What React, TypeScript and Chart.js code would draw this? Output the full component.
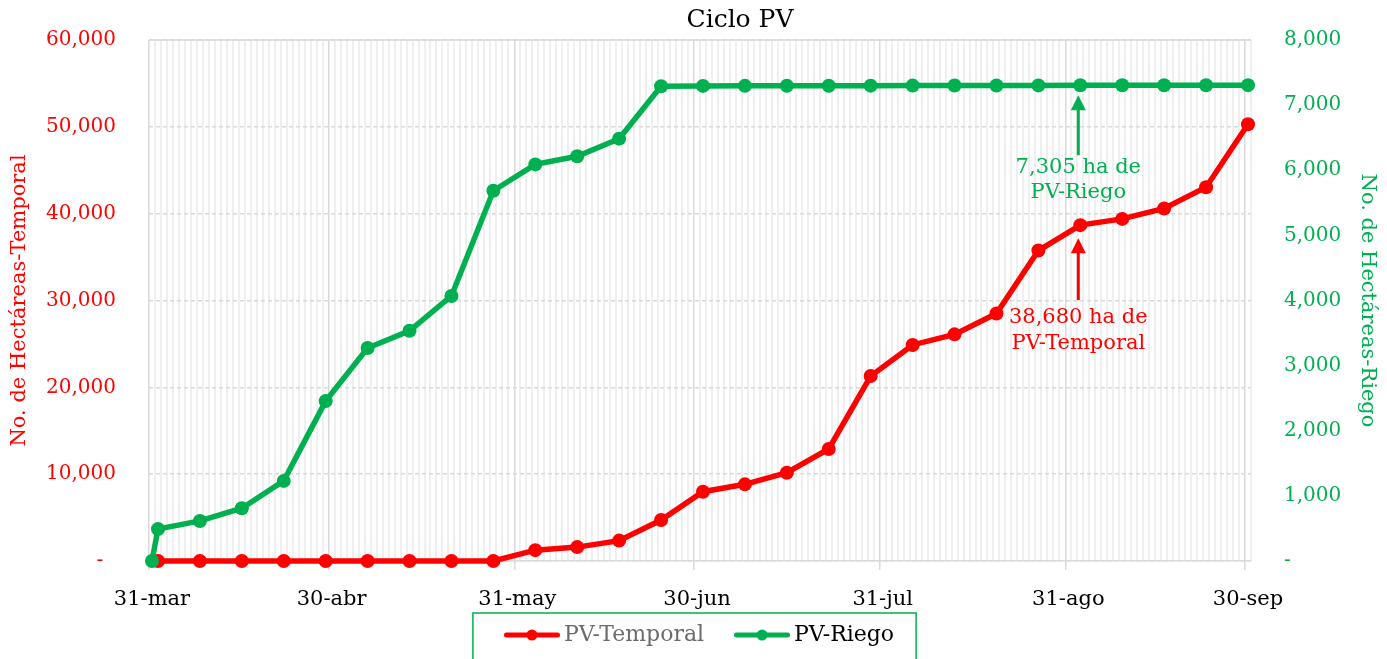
import { useEffect, useRef } from 'react';
import { Chart, registerables } from 'chart.js';

Chart.register(...registerables);

const CHART_TITLE = 'Ciclo PV';
const LEFT_AXIS_TITLE = 'No. de Hectáreas-Temporal';
const RIGHT_AXIS_TITLE = 'No. de Hectáreas-Riego';
const SERIES_NAMES = ['PV-Temporal', 'PV-Riego'];
const SERIES_COLORS = ['#FF0000', '#00B050'];
const LEGEND_TEXT_COLORS = ['#6b6b6b', '#000000'];

// x values are days elapsed since 31-mar; each day is one slot on the date axis
const X_MIN = 0;
const X_DAYS = 184;
const MONTH_TICK_DAYS = [0, 30, 61, 91, 122, 153, 183];
const MONTH_TICK_LABELS = ['31-mar', '30-abr', '31-may', '30-jun', '31-jul', '31-ago', '30-sep'];

const TEMPORAL_DAYS = [1, 8, 15, 22, 29, 36, 43, 50, 57, 64, 71, 78, 85, 92, 99, 106, 113, 120, 127, 134, 141, 148, 155, 162, 169, 176, 183];
const TEMPORAL_VALUES = [0, 0, 0, 0, 0, 0, 0, 0, 0, 1250, 1600, 2350, 4720, 7980, 8830, 10170, 12900, 21300, 24880, 26100, 28500, 35750, 38680, 39400, 40600, 43050, 50300];

const RIEGO_DAYS = [0, 1, 8, 15, 22, 29, 36, 43, 50, 57, 64, 71, 78, 85, 92, 99, 106, 113, 120, 127, 134, 141, 148, 155, 162, 169, 176, 183];
const RIEGO_VALUES = [0, 490, 615, 810, 1230, 2455, 3270, 3535, 4070, 5685, 6090, 6215, 6485, 7290, 7295, 7296, 7297, 7298, 7299, 7300, 7301, 7302, 7303, 7305, 7305, 7306, 7306, 7307];

const LEFT_MAX = 60000;
const LEFT_STEP = 10000;
const RIGHT_MAX = 8000;
const RIGHT_STEP = 1000;

// annotated points (day index) and their label suffixes
const ANNOTATED_DAYS = [155, 155];
const ANNOTATION_SUFFIXES = ['PV-Temporal', 'PV-Riego'];

const FONT = "'DejaVu Serif', serif";
const GRID_MAJOR = '#d9d9d9';
const GRID_MINOR = '#efefef';
const TRANSPARENT = 'rgba(0,0,0,0)';

// a point sits in the middle of its day slot
const SLOT_CENTER = 0.5;

// callout styling (pixel offsets below the annotated point)
const CALLOUT_STYLE = [
  { tipGap: 13, shaftEnd: 75, line1: 92, lineStep: 26 },
  { tipGap: 10, shaftEnd: 70, line1: 82, lineStep: 25 },
];

const fmt = (v: number) => Math.round(v).toLocaleString('en-US');

function makeLegendIcon(color: string): HTMLCanvasElement {
  const c = document.createElement('canvas');
  c.width = 56;
  c.height = 14;
  const g = c.getContext('2d')!;
  g.strokeStyle = color;
  g.lineWidth = 5;
  g.lineCap = 'round';
  g.beginPath();
  g.moveTo(2.5, 7);
  g.lineTo(53.5, 7);
  g.stroke();
  g.fillStyle = color;
  g.beginPath();
  g.arc(28, 7, 5.5, 0, Math.PI * 2);
  g.fill();
  return c;
}

const decorPlugin = {
  id: 'decor',
  afterLayout(chart: any) {
    // let x tick labels extend over the legend band (no clipping)
    const xs = chart.scales.x;
    if (xs) xs.bottom = chart.height;
    const L = chart.legend;
    if (L) {
      L.left += 9;
      L.right += 9;
    }
  },
  afterDatasetsDraw(chart: any) {
    const ctx = chart.ctx;
    const xs = chart.scales.x;
    const scaleIds = ['yL', 'yR'];
    const dataSets = [
      { days: TEMPORAL_DAYS, values: TEMPORAL_VALUES },
      { days: RIEGO_DAYS, values: RIEGO_VALUES },
    ];
    dataSets.forEach((s, i) => {
      const day = ANNOTATED_DAYS[i];
      const idx = s.days.indexOf(day);
      if (idx < 0) return;
      const v = s.values[idx];
      const px = xs.getPixelForValue(day + SLOT_CENTER) - 2;
      const py = chart.scales[scaleIds[i]].getPixelForValue(v);
      const color = SERIES_COLORS[i];
      const st = CALLOUT_STYLE[i];
      const tip = py + st.tipGap;
      ctx.save();
      ctx.fillStyle = color;
      ctx.strokeStyle = color;
      ctx.beginPath();
      ctx.moveTo(px, tip);
      ctx.lineTo(px - 7.5, tip + 15);
      ctx.lineTo(px + 7.5, tip + 15);
      ctx.closePath();
      ctx.fill();
      ctx.lineWidth = 3;
      ctx.beginPath();
      ctx.moveTo(px, tip + 12);
      ctx.lineTo(px, py + st.shaftEnd);
      ctx.stroke();
      ctx.font = `21px ${FONT}`;
      ctx.textAlign = 'center';
      ctx.textBaseline = 'middle';
      ctx.fillText(`${fmt(v)} ha de`, px, py + st.line1);
      ctx.fillText(ANNOTATION_SUFFIXES[i], px, py + st.line1 + st.lineStep);
      ctx.restore();
    });
  },
  afterDraw(chart: any) {
    const ctx = chart.ctx;
    const a = chart.chartArea;
    ctx.save();
    // solid top border of plot area
    ctx.strokeStyle = GRID_MAJOR;
    ctx.lineWidth = 1.5;
    ctx.beginPath();
    ctx.moveTo(a.left, a.top);
    ctx.lineTo(a.right, a.top);
    ctx.stroke();
    // title
    ctx.fillStyle = '#000';
    ctx.font = `25px ${FONT}`;
    ctx.textAlign = 'center';
    ctx.textBaseline = 'middle';
    ctx.fillText(CHART_TITLE, (a.left + a.right) / 2 + 40, 20);
    // legend border
    const hb = chart.legend && chart.legend.legendHitBoxes;
    if (hb && hb.length) {
      const first = hb[0];
      const last = hb[hb.length - 1];
      const left = first.left - 38;
      const right = last.left + last.width + 22;
      const top = first.top - 11;
      ctx.strokeStyle = '#00B050';
      ctx.lineWidth = 1.5;
      ctx.strokeRect(left, top, right - left, chart.height - top + 10);
    }
    ctx.restore();
  },
};

export default function App() {
  const ref = useRef<HTMLCanvasElement | null>(null);

  useEffect(() => {
    document.body.style.margin = '0';
    const canvas = ref.current;
    if (!canvas) return;
    const icons = SERIES_COLORS.map(makeLegendIcon);
    const monthSet = new Set(MONTH_TICK_DAYS);
    // grid line i sits at the start of day slot i (grid.offset)
    const isMonthLine = (c: any) => c.tick && monthSet.has(Math.round(c.tick.value - SLOT_CENTER));

    const chart = new Chart(canvas, {
      type: 'line',
      data: {
        datasets: [
          {
            label: SERIES_NAMES[0],
            data: TEMPORAL_DAYS.map((d, i) => ({ x: d + SLOT_CENTER, y: TEMPORAL_VALUES[i] })),
            borderColor: SERIES_COLORS[0],
            backgroundColor: SERIES_COLORS[0],
            borderWidth: 5.5,
            pointRadius: 7,
            pointHoverRadius: 7,
            pointBorderWidth: 0,
            yAxisID: 'yL',
            tension: 0,
            clip: false,
            order: 2,
          },
          {
            label: SERIES_NAMES[1],
            data: RIEGO_DAYS.map((d, i) => ({ x: d + SLOT_CENTER, y: RIEGO_VALUES[i] })),
            borderColor: SERIES_COLORS[1],
            backgroundColor: SERIES_COLORS[1],
            borderWidth: 5.5,
            pointRadius: 7,
            pointHoverRadius: 7,
            pointBorderWidth: 0,
            yAxisID: 'yR',
            tension: 0,
            clip: false,
            order: 1,
          },
        ],
      },
      options: {
        responsive: false,
        animation: false,
        layout: { padding: { top: 40, left: 0, right: 0, bottom: 3 } },
        plugins: {
          title: { display: false },
          tooltip: { enabled: false },
          legend: {
            display: true,
            position: 'bottom',
            labels: {
              usePointStyle: true,
              pointStyleWidth: 42,
              padding: 37,
              font: { family: FONT, size: 22 },
              generateLabels: (ch: any) =>
                ch.data.datasets.map((ds: any, i: number) => ({
                  text: ds.label,
                  fillStyle: SERIES_COLORS[i],
                  strokeStyle: SERIES_COLORS[i],
                  lineWidth: 0,
                  pointStyle: icons[i],
                  fontColor: LEGEND_TEXT_COLORS[i],
                  hidden: false,
                  datasetIndex: i,
                })),
            },
          },
        },
        scales: {
          x: {
            type: 'linear',
            min: X_MIN,
            max: X_MIN + X_DAYS,
            afterBuildTicks: (scale: any) => {
              const t = [];
              for (let d = X_MIN; d < X_MIN + X_DAYS; d++) t.push({ value: d + SLOT_CENTER });
              scale.ticks = t;
            },
            afterFit: (scale: any) => {
              scale.height = 26;
            },
            ticks: {
              autoSkip: false,
              maxRotation: 0,
              minRotation: 0,
              padding: 17,
              color: '#000',
              font: { family: FONT, size: 21 },
              callback: (v: any) => {
                const i = MONTH_TICK_DAYS.indexOf(Math.round(Number(v) - SLOT_CENTER));
                return i >= 0 ? MONTH_TICK_LABELS[i] : '';
              },
            },
            grid: {
              offset: true,
              color: (c: any) => (isMonthLine(c) ? GRID_MAJOR : GRID_MINOR),
              lineWidth: (c: any) => (isMonthLine(c) ? 1.5 : 2),
              tickColor: (c: any) => (isMonthLine(c) ? GRID_MAJOR : TRANSPARENT),
              tickLength: 9,
              drawTicks: true,
            },
            border: { display: true, color: GRID_MAJOR, width: 1.5 },
          },
          yL: {
            type: 'linear',
            position: 'left',
            min: 0,
            max: LEFT_MAX,
            afterFit: (scale: any) => {
              scale.width = 149;
            },
            ticks: {
              stepSize: LEFT_STEP,
              padding: 0,
              color: '#FF0000',
              font: { family: FONT, size: 20 },
              callback: (v: any) => (Number(v) === 0 ? '-  ' : fmt(Number(v))),
            },
            grid: { color: GRID_MAJOR, lineWidth: 1.5, drawTicks: true, tickLength: 33, tickColor: TRANSPARENT },
            border: { display: false, dash: [4, 3] },
            title: {
              display: true,
              text: LEFT_AXIS_TITLE,
              color: '#FF0000',
              font: { family: FONT, size: 21 },
              padding: { top: 7, bottom: 0 },
            },
          },
          yR: {
            type: 'linear',
            position: 'right',
            min: 0,
            max: RIGHT_MAX,
            afterFit: (scale: any) => {
              scale.width = 136;
            },
            ticks: {
              stepSize: RIGHT_STEP,
              padding: 0,
              color: '#00B050',
              font: { family: FONT, size: 20 },
              callback: (v: any) => (Number(v) === 0 ? '-' : fmt(Number(v))),
            },
            grid: { drawOnChartArea: false, drawTicks: true, tickLength: 33, tickColor: TRANSPARENT },
            border: { display: false },
            title: {
              display: true,
              text: RIGHT_AXIS_TITLE,
              color: '#00B050',
              font: { family: FONT, size: 21 },
              padding: { top: 7, bottom: 0 },
            },
          },
        },
      },
      plugins: [decorPlugin],
    } as any);

    return () => chart.destroy();
  }, []);

  return (
    <div style={{ width: 1387, height: 659, position: 'relative', overflow: 'hidden' }}>
      <canvas ref={ref} width={1387} height={659} />
    </div>
  );
}
